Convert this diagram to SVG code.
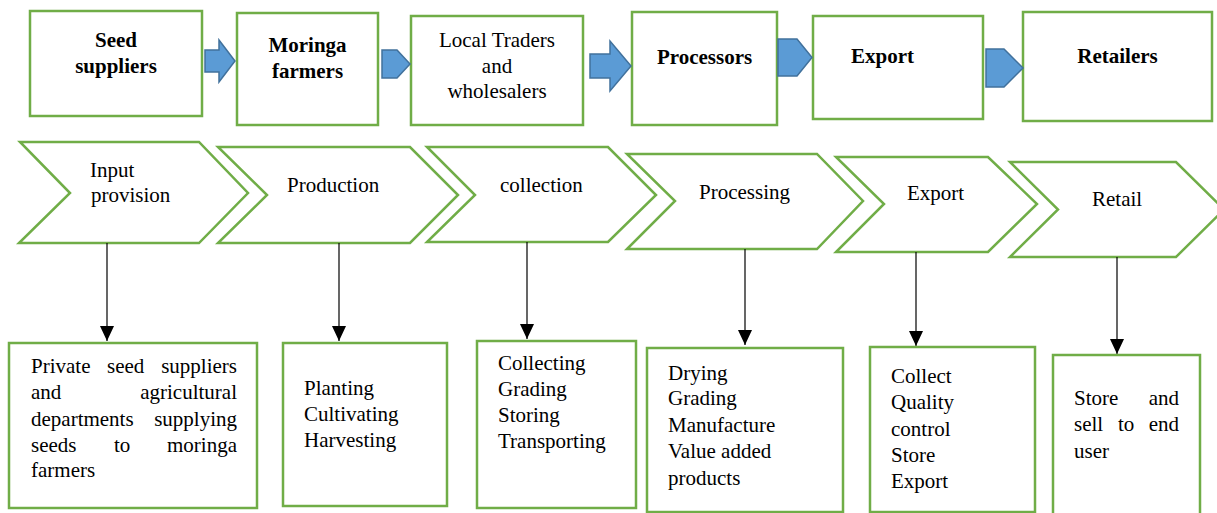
<svg xmlns="http://www.w3.org/2000/svg" width="1217" height="513" viewBox="0 0 1217 513">
  <style>
    .box { fill: #ffffff; stroke: #70AD47; stroke-width: 2.5; }
    .chev { fill: #ffffff; stroke: #70AD47; stroke-width: 2.5; stroke-linejoin: miter; }
    .blk { fill: #5B9BD5; stroke: #41719C; stroke-width: 1.5; stroke-linejoin: miter; }
    text { font-family: 'Liberation Serif', 'DejaVu Serif', serif; font-size: 21px; fill: #000000; }
    .b { font-weight: bold; }
    .c { text-anchor: middle; }
    .link { stroke: #000000; stroke-width: 1.2; fill: none; marker-end: url(#head); }
  </style>
  <defs>
    <marker id="head" viewBox="0 0 15 14" refX="15" refY="7" markerWidth="15" markerHeight="14" markerUnits="userSpaceOnUse" orient="auto">
      <path d="M0,0 L15,7 L0,14 Z" fill="#000000"/>
    </marker>
  </defs>

  <rect width="1217" height="513" fill="#ffffff"/>

  <!-- Actors along the chain -->
  <g id="actor-seed-suppliers">
    <rect class="box" x="30" y="11" width="172" height="105"/>
    <text class="b c" x="116" y="47">Seed</text>
    <text class="b c" x="116" y="73">suppliers</text>
  </g>
  <g id="actor-moringa-farmers">
    <rect class="box" x="237" y="13" width="141" height="112"/>
    <text class="b c" x="307.5" y="52">Moringa</text>
    <text class="b c" x="307.5" y="78">farmers</text>
  </g>
  <g id="actor-local-traders">
    <rect class="box" x="411" y="16" width="172" height="109"/>
    <text class="c" x="497" y="47">Local Traders</text>
    <text class="c" x="497" y="73">and</text>
    <text class="c" x="497" y="98">wholesalers</text>
  </g>
  <g id="actor-processors">
    <rect class="box" x="632" y="12" width="145" height="113"/>
    <text class="b c" x="704.5" y="64">Processors</text>
  </g>
  <g id="actor-export">
    <rect class="box" x="813" y="16" width="170" height="103"/>
    <text class="b" x="851" y="63">Export</text>
  </g>
  <g id="actor-retailers">
    <rect class="box" x="1023" y="12" width="189" height="109"/>
    <text class="b c" x="1117.5" y="63">Retailers</text>
  </g>

  <!-- Block arrows between actors -->
  <g id="block-arrows">
    <polygon class="blk" points="205,50 219,50 219,40 235,61 219,82 219,72 205,72"/>
    <polygon class="blk" points="382,50 397,50 410,64 397,78 382,78"/>
    <polygon class="blk" points="590,54 610,54 610,41 631,66 610,91 610,78 590,78"/>
    <polygon class="blk" points="778,39 797,39 812,57.5 797,76 778,76"/>
    <polygon class="blk" points="986,49 1004,49 1023,68 1004,87 986,87"/>
  </g>

  <!-- Stage chevrons -->
  <g id="stage-input">
    <polygon class="chev" points="20,142 199,142 248,193 199,243 19,243 70,193"/>
    <text x="90" y="177">Input</text>
    <text x="91" y="202">provision</text>
  </g>
  <g id="stage-production">
    <polygon class="chev" points="218,147 410,147 458,195 410,243 218,243 267,195"/>
    <text x="287" y="192">Production</text>
  </g>
  <g id="stage-collection">
    <polygon class="chev" points="427,147 608,147 656,195 608,242 427,242 475,195"/>
    <text x="500" y="192">collection</text>
  </g>
  <g id="stage-processing">
    <polygon class="chev" points="627,154 817,154 863,201 817,249 627,249 675,201"/>
    <text x="699" y="199">Processing</text>
  </g>
  <g id="stage-export">
    <polygon class="chev" points="836,157 988,157 1037,204 988,252 836,252 884,204"/>
    <text x="907" y="200">Export</text>
  </g>
  <g id="stage-retail">
    <polygon class="chev" points="1010,162 1176,162 1224,209.5 1176,257 1010,257 1058,209.5"/>
    <text x="1092" y="206">Retail</text>
  </g>

  <!-- Connectors from stages to activity boxes -->
  <g id="connectors">
    <line class="link" x1="107" y1="243" x2="107" y2="341"/>
    <line class="link" x1="339" y1="243" x2="339" y2="341"/>
    <line class="link" x1="527" y1="242" x2="527" y2="339"/>
    <line class="link" x1="745" y1="249" x2="745" y2="345"/>
    <line class="link" x1="916" y1="252" x2="916" y2="346"/>
    <line class="link" x1="1117" y1="257" x2="1117" y2="354"/>
  </g>

  <!-- Activities at each stage -->
  <g id="activity-input">
    <rect class="box" x="9" y="343" width="248" height="165"/>
    <text y="373"><tspan x="31">Private</tspan><tspan x="107">seed</tspan><tspan x="237" text-anchor="end">suppliers</tspan></text>
    <text y="399"><tspan x="31">and</tspan><tspan x="237" text-anchor="end">agricultural</tspan></text>
    <text y="426"><tspan x="31">departments</tspan><tspan x="237" text-anchor="end">supplying</tspan></text>
    <text y="452"><tspan x="31">seeds</tspan><tspan x="114">to</tspan><tspan x="237" text-anchor="end">moringa</tspan></text>
    <text x="31" y="477">farmers</text>
  </g>
  <g id="activity-production">
    <rect class="box" x="283" y="343" width="164" height="163"/>
    <text x="304" y="395">Planting</text>
    <text x="304" y="421">Cultivating</text>
    <text x="304" y="447">Harvesting</text>
  </g>
  <g id="activity-collection">
    <rect class="box" x="477" y="341" width="159" height="167"/>
    <text x="498" y="370">Collecting</text>
    <text x="498" y="396">Grading</text>
    <text x="498" y="422">Storing</text>
    <text x="498" y="448">Transporting</text>
  </g>
  <g id="activity-processing">
    <rect class="box" x="647" y="348" width="196" height="164"/>
    <text x="668" y="380">Drying</text>
    <text x="668" y="405">Grading</text>
    <text x="668" y="432">Manufacture</text>
    <text x="668" y="458">Value added</text>
    <text x="668" y="485">products</text>
  </g>
  <g id="activity-export">
    <rect class="box" x="870" y="347" width="165" height="165"/>
    <text x="891" y="383">Collect</text>
    <text x="891" y="409">Quality</text>
    <text x="891" y="436">control</text>
    <text x="891" y="462">Store</text>
    <text x="891" y="488">Export</text>
  </g>
  <g id="activity-retail">
    <rect class="box" x="1053" y="355" width="147" height="170"/>
    <text y="405"><tspan x="1074">Store</tspan><tspan x="1179" text-anchor="end">and</tspan></text>
    <text y="431"><tspan x="1074">sell</tspan><tspan x="1118">to</tspan><tspan x="1179" text-anchor="end">end</tspan></text>
    <text x="1074" y="458">user</text>
  </g>
</svg>
